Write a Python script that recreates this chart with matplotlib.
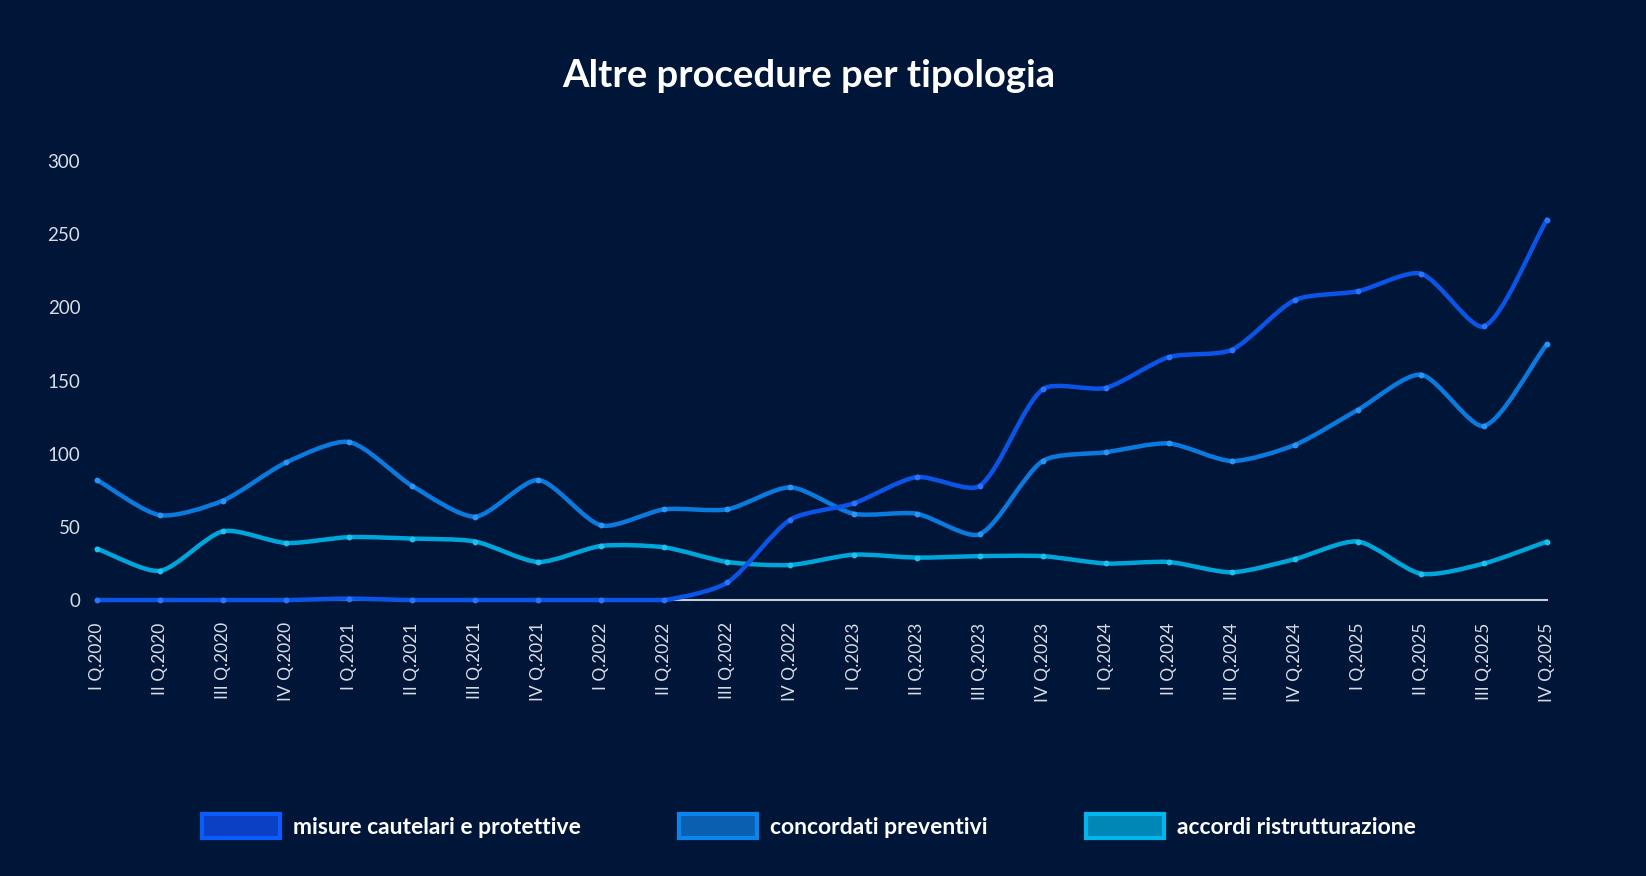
"""Altre procedure per tipologia - line chart"""
import numpy as np
import matplotlib
matplotlib.use("Agg")
import matplotlib.pyplot as plt
from matplotlib.path import Path
from matplotlib.patches import PathPatch, Patch

plt.rcParams['font.family'] = ['Lato', 'DejaVu Sans']

quarters = [
    "I Q.2020", "II Q.2020", "III Q.2020", "IV Q.2020",
    "I Q.2021", "II Q.2021", "III Q.2021", "IV Q.2021",
    "I Q.2022", "II Q.2022", "III Q.2022", "IV Q.2022",
    "I Q.2023", "II Q.2023", "III Q.2023", "IV Q.2023",
    "I Q.2024", "II Q.2024", "III Q.2024", "IV Q.2024",
    "I Q.2025", "II Q.2025", "III Q.2025", "IV Q.2025",
]
misure = [0, 0, 0, 0, 1, 0, 0, 0, 0, 0, 12, 55, 66, 84, 78, 144,
          145, 166, 171, 205, 211, 223, 187, 260]
concordati = [82, 58, 68, 94, 108, 78, 57, 82, 51, 62, 62, 77, 59, 59, 45, 95,
              101, 107, 95, 106, 130, 154, 119, 175]
accordi = [35, 20, 47, 39, 43, 42, 40, 26, 37, 36, 26, 24, 31, 29, 30, 30,
           25, 26, 19, 28, 40, 18, 25, 40]

series_names = ["misure cautelari e protettive", "concordati preventivi",
                "accordi ristrutturazione"]
line_colors = ["#0a55e8", "#0a7ade", "#00a6da"]
dot_colors = ["#2a74ff", "#2a95f5", "#20c0ee"]
face_colors = ["#0b40c4", "#0b5fb0", "#0087b5"]
edge_colors = ["#0a5cff", "#0a85f0", "#00b6ee"]

BG = "#001638"
SX, SY = 63.0, 1.463  # approx pixels per x step / per unit (for curve tension)


def smooth_path(xs, ys, t=0.25):
    """Cubic bezier path like Chart.js tension curves"""
    px = np.asarray(xs, float) * SX
    py = np.asarray(ys, float) * SY
    n = len(px)
    prev_cp, next_cp = [], []
    for i in range(n):
        a = (px[max(i - 1, 0)], py[max(i - 1, 0)])
        m = (px[i], py[i])
        b = (px[min(i + 1, n - 1)], py[min(i + 1, n - 1)])
        d01 = np.hypot(m[0] - a[0], m[1] - a[1])
        d12 = np.hypot(b[0] - m[0], b[1] - m[1])
        tot = d01 + d12
        s01 = d01 / tot if tot else 0
        s12 = d12 / tot if tot else 0
        fa, fb = t * s01, t * s12
        prev_cp.append((m[0] - fa * (b[0] - a[0]), max(m[1] - fa * (b[1] - a[1]), 0)))
        next_cp.append((m[0] + fb * (b[0] - a[0]), max(m[1] + fb * (b[1] - a[1]), 0)))
    verts = [(px[0], py[0])]
    codes = [Path.MOVETO]
    for i in range(n - 1):
        verts += [next_cp[i], prev_cp[i + 1], (px[i + 1], py[i + 1])]
        codes += [Path.CURVE4] * 3
    verts = [(vx / SX, vy / SY) for vx, vy in verts]
    return Path(verts, codes)


fig = plt.figure(figsize=(16.46, 8.76), dpi=100, facecolor=BG)
ax = fig.add_axes([0.0589, 0.315, 0.881, 0.5012])
ax.set_facecolor(BG)

x = np.arange(len(quarters))
ax.plot([x[0], x[-1]], [0, 0], color="#c8ccd4", lw=1.5, zorder=1, clip_on=False)

all_series = [misure, concordati, accordi]
for k in [2, 1, 0]:
    vals = all_series[k]
    patch = PathPatch(smooth_path(x, vals), facecolor="none", edgecolor=line_colors[k],
                      lw=3.2, capstyle="round", joinstyle="round", zorder=3 + (2 - k),
                      clip_on=False)
    ax.add_patch(patch)
    ax.plot(x, vals, linestyle="none", marker="o", ms=3.2, color=dot_colors[k],
            zorder=3.5 + (2 - k), clip_on=False)

ax.set_xlim(0, len(quarters) - 1)
ax.set_ylim(0, 300)
ax.set_yticks(range(0, 301, 50))
ax.set_xticks(x)
ax.set_xticklabels(quarters, rotation=90)
ax.tick_params(axis="both", length=0, colors="#d8dde6", labelsize=12.5)
ax.tick_params(axis="y", pad=12, labelsize=13.5)
ax.tick_params(axis="x", pad=16)
for s in ax.spines.values():
    s.set_visible(False)

fig.text(0.4915, 0.913, "Altre procedure per tipologia", color="white",
         fontsize=27.5, fontweight="bold", ha="center", va="center")

handles = [Patch(facecolor=face_colors[k], edgecolor=edge_colors[k], lw=3)
           for k in range(3)]
leg = fig.legend(handles, series_names, loc="center", bbox_to_anchor=(0.4915, 0.057),
                 ncol=3, frameon=False, handlelength=3.4, handleheight=1.25,
                 handletextpad=0.55, columnspacing=4.3,
                 prop={"size": 16.5, "weight": "bold"})
for txt in leg.get_texts():
    txt.set_color("white")

fig.savefig("out.png", dpi=100, facecolor=BG)
